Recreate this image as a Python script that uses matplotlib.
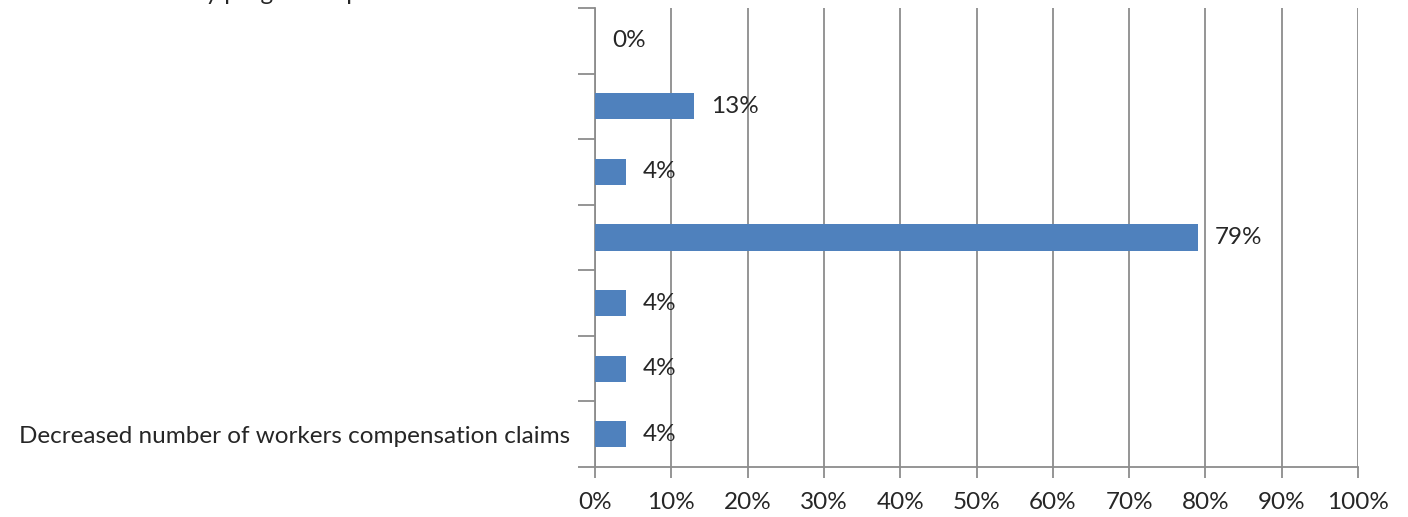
import matplotlib.pyplot as plt
import numpy as np

# categories top to bottom (only the bottom label shows in the source)
categories = ['', '', '', '', '', '', 'Decreased number of workers compensation claims']
values = [0, 13, 4, 79, 4, 4, 4]
x_ticks = [0, 10, 20, 30, 40, 50, 60, 70, 80, 90, 100]
x_labels = ['%d%%' % t for t in x_ticks]

plt.rcParams['font.family'] = ['Lato', 'DejaVu Sans']

fig = plt.figure(figsize=(14.08, 5.17), dpi=100)
ax = fig.add_axes([595 / 1408, 1 - 467 / 517, (1358 - 595) / 1408, (467 - 8) / 517])

y = np.arange(len(values))[::-1]
ax.barh(y, values, height=0.4, color='#4F81BD', zorder=3)

for yi, v in zip(y, values):
    ax.text(v + 2.2, yi, '%d%%' % v, va='center', ha='left', fontsize=17.5,
            color='#262626', zorder=4)

ax.set_xlim(0, 100)
ax.set_ylim(-0.5, len(values) - 0.5)
ax.set_xticks(x_ticks)
ax.set_xticklabels(x_labels, fontsize=17.5, color='#262626')
ax.xaxis.grid(True, color='#8c8c8c', linewidth=1.3, zorder=0)

# labels at bar centres, tick marks at the category boundaries
ax.set_yticks(y)
ax.set_yticklabels(categories, fontsize=17.5, color='#262626')
ax.set_yticks(np.arange(-0.5, len(values)), minor=True)
ax.tick_params(axis='y', which='major', length=0, pad=18)
ax.tick_params(axis='y', which='minor', length=12, color='#8c8c8c', width=1.3)
ax.tick_params(axis='x', length=8, color='#8c8c8c', width=1.3, pad=10)

for s in ['top', 'right']:
    ax.spines[s].set_visible(False)
for s in ['left', 'bottom']:
    ax.spines[s].set_color('#8c8c8c')
    ax.spines[s].set_linewidth(1.3)

# title line, cut off at the top edge as in the source image
fig.text(0.0, 1.012, 'Results of the safety program implementation to date:', fontsize=17.5,
         color='#262626', ha='left', va='center')

fig.savefig('out.png', dpi=100)
